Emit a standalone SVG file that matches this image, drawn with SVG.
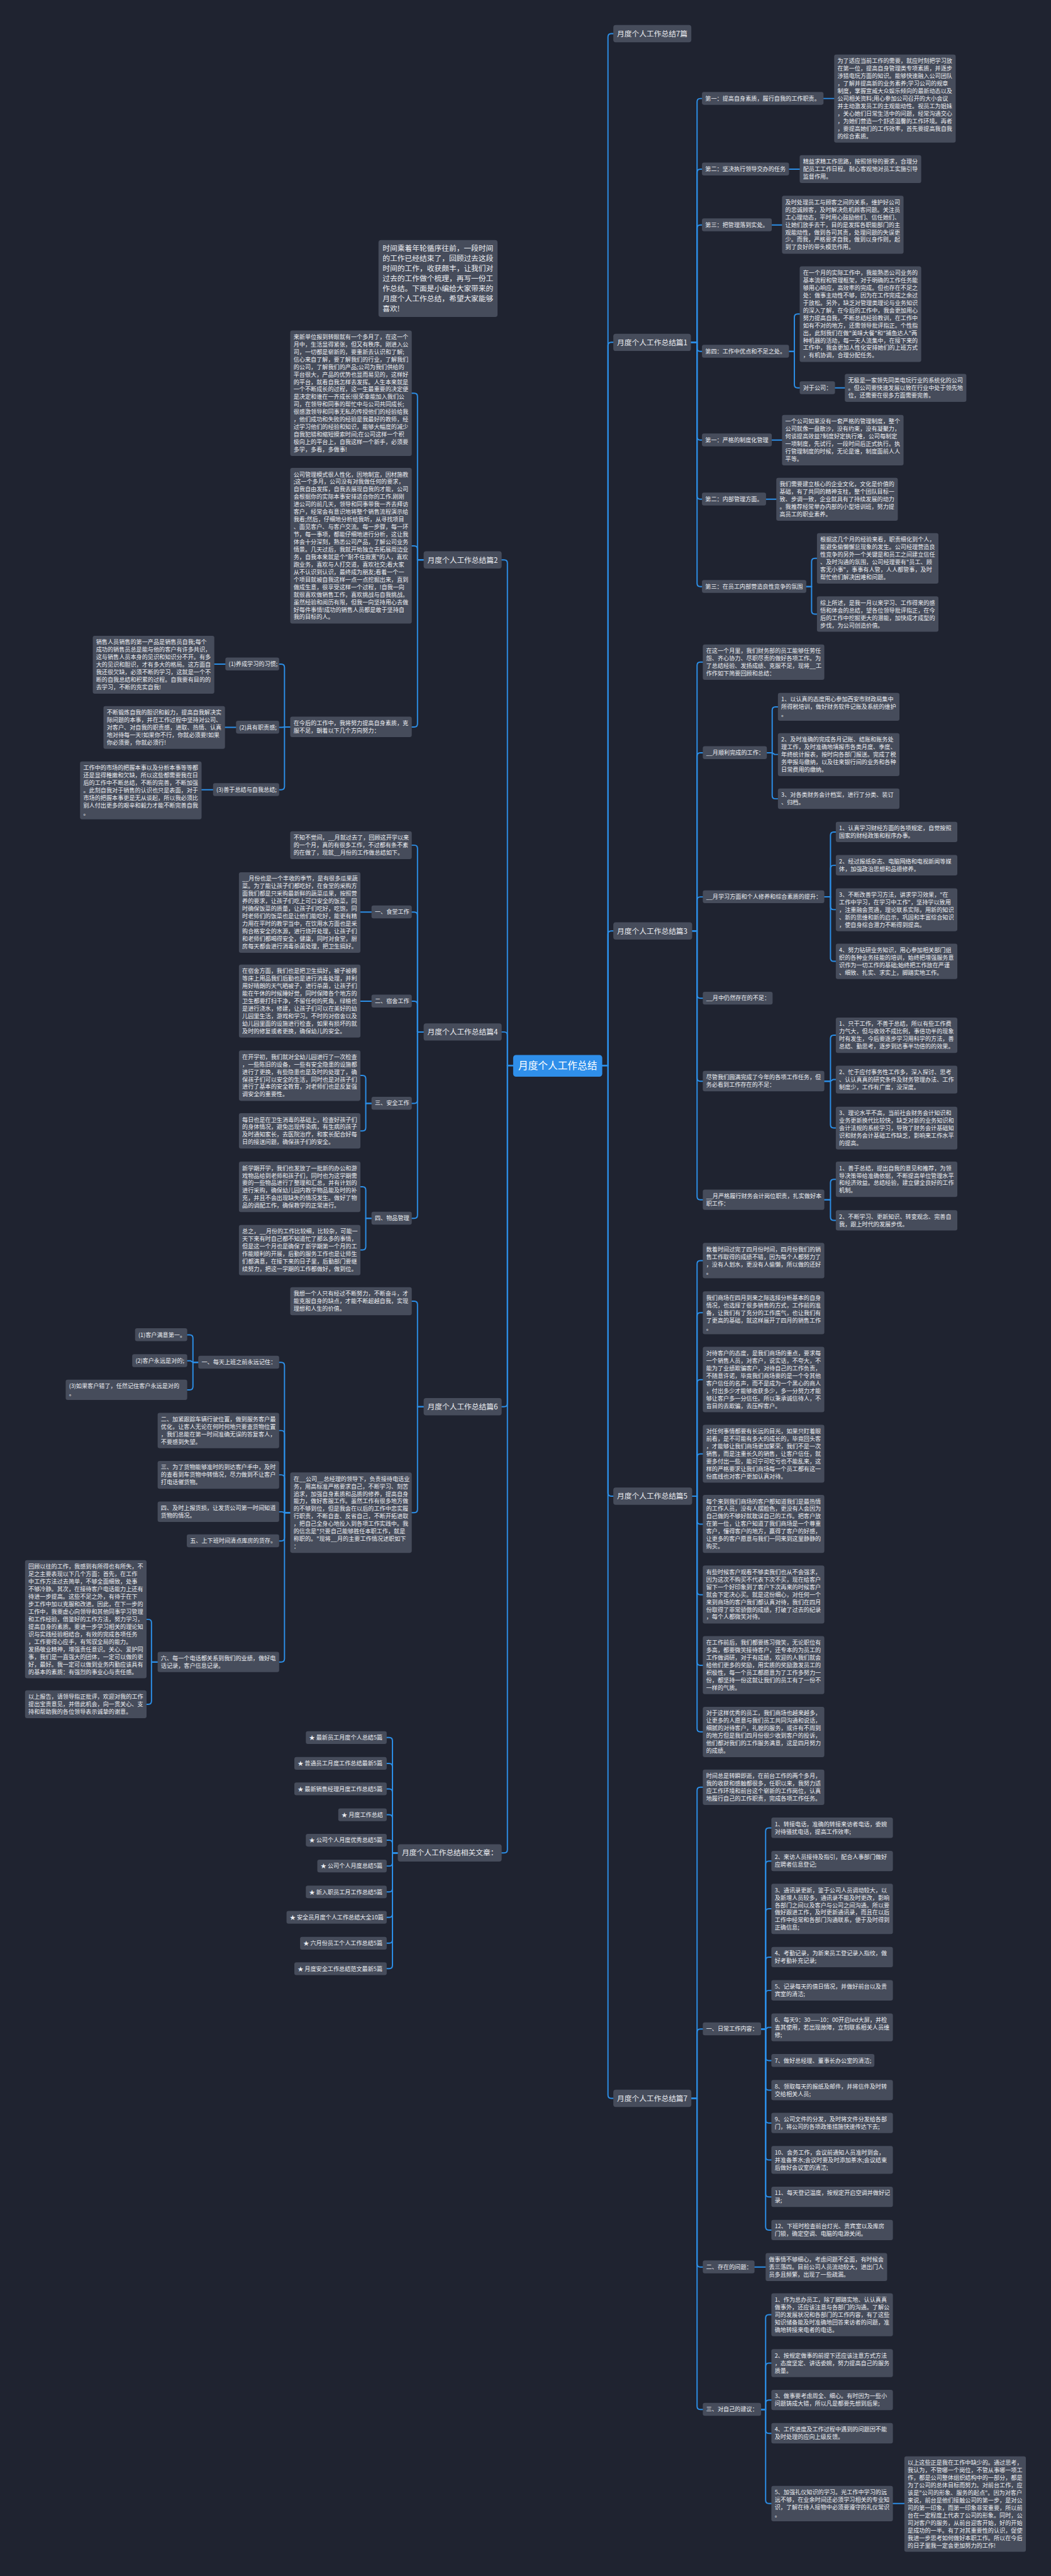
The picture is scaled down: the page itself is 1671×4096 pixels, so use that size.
<svg xmlns="http://www.w3.org/2000/svg" width="1671" height="4096" viewBox="0 0 1671 4096">
<style>
.bg{fill:#1f2330}
.b{fill:#464c5b}
.c{fill:#2f8fea}
.t{font-family:"Noto Sans CJK SC","Noto Sans",sans-serif;font-size:14px;fill:#eceef2}
.m{font-size:18px}
.x{font-size:24px;fill:#ffffff}
.l{fill:none;stroke:#2c8ee6;stroke-width:3;stroke-linecap:round;stroke-linejoin:round}
</style>
<rect class="bg" x="0" y="0" width="1671" height="4096"/>
<g transform="scale(0.65269)">
<g id="connectors">
<path class="l" d="M1467 2596H1481V90Q1481 82 1489 82H1494"/>
<path class="l" d="M1467 2596H1481V842Q1481 834 1489 834H1494"/>
<path class="l" d="M1467 2596H1481V2276Q1481 2268 1489 2268H1494"/>
<path class="l" d="M1467 2596H1481V3637Q1481 3645 1489 3645H1494"/>
<path class="l" d="M1467 2596H1481V5104Q1481 5112 1489 5112H1494"/>
<path class="l" d="M1250 2596H1236V1372Q1236 1364 1228 1364H1222"/>
<path class="l" d="M1250 2596H1236V2522Q1236 2514 1228 2514H1222"/>
<path class="l" d="M1250 2596H1236V3419Q1236 3427 1228 3427H1222"/>
<path class="l" d="M1250 2596H1236V4506Q1236 4514 1228 4514H1222"/>
<path class="l" d="M1683 834H1698V248Q1698 240 1706 240H1710"/>
<path class="l" d="M1683 834H1698V420Q1698 412 1706 412H1710"/>
<path class="l" d="M1683 834H1698V556Q1698 548 1706 548H1710"/>
<path class="l" d="M1683 834H1698V848Q1698 856 1706 856H1710"/>
<path class="l" d="M1683 834H1698V1064Q1698 1072 1706 1072H1710"/>
<path class="l" d="M1683 834H1698V1208Q1698 1216 1706 1216H1710"/>
<path class="l" d="M1683 834H1698V1421Q1698 1429 1706 1429H1710"/>
<path class="l" d="M2006 240H2032"/>
<path class="l" d="M1922 412H1948"/>
<path class="l" d="M1880 548H1905"/>
<path class="l" d="M1922 856H1935V773Q1935 765 1943 765H1948"/>
<path class="l" d="M1922 856H1935V937Q1935 945 1943 945H1948"/>
<path class="l" d="M2034 945H2058"/>
<path class="l" d="M1880 1072H1905"/>
<path class="l" d="M1866 1216H1891"/>
<path class="l" d="M1964 1429H1977V1368Q1977 1360 1985 1360H1990"/>
<path class="l" d="M1964 1429H1977V1488Q1977 1496 1985 1496H1990"/>
<path class="l" d="M1686 2268H1698V1621Q1698 1613 1706 1613H1712"/>
<path class="l" d="M1686 2268H1698V1842Q1698 1834 1706 1834H1712"/>
<path class="l" d="M1686 2268H1698V2193Q1698 2185 1706 2185H1712"/>
<path class="l" d="M1686 2268H1698V2424Q1698 2432 1706 2432H1712"/>
<path class="l" d="M1686 2268H1698V2626Q1698 2634 1706 2634H1712"/>
<path class="l" d="M1686 2268H1698V2915Q1698 2923 1706 2923H1712"/>
<path class="l" d="M1868 1834H1881V1730Q1881 1722 1889 1722H1895"/>
<path class="l" d="M1868 1834H1881L1887 1838H1895"/>
<path class="l" d="M1868 1834H1881V1938Q1881 1946 1889 1946H1895"/>
<path class="l" d="M2008 2185H2023V2035Q2023 2027 2031 2027H2036"/>
<path class="l" d="M2008 2185H2023V2116Q2023 2108 2031 2108H2036"/>
<path class="l" d="M2008 2185H2023V2208Q2023 2216 2031 2216H2036"/>
<path class="l" d="M2008 2185H2023V2334Q2023 2342 2031 2342H2036"/>
<path class="l" d="M2008 2634H2023V2530Q2023 2522 2031 2522H2036"/>
<path class="l" d="M2008 2634H2023L2029 2630H2036"/>
<path class="l" d="M2008 2634H2023V2740Q2023 2748 2031 2748H2036"/>
<path class="l" d="M2008 2923H2023V2881Q2023 2873 2031 2873H2036"/>
<path class="l" d="M2008 2923H2023V2965Q2023 2973 2031 2973H2036"/>
<path class="l" d="M1686 3645H1698V3079Q1698 3071 1706 3071H1712"/>
<path class="l" d="M1686 3645H1698V3206Q1698 3198 1706 3198H1712"/>
<path class="l" d="M1686 3645H1698V3369Q1698 3361 1706 3361H1712"/>
<path class="l" d="M1686 3645H1698V3550Q1698 3542 1706 3542H1712"/>
<path class="l" d="M1686 3645H1698V3705Q1698 3713 1706 3713H1712"/>
<path class="l" d="M1686 3645H1698V3877Q1698 3885 1706 3885H1712"/>
<path class="l" d="M1686 3645H1698V4049Q1698 4057 1706 4057H1712"/>
<path class="l" d="M1686 3645H1698V4211Q1698 4219 1706 4219H1712"/>
<path class="l" d="M1684 5112H1698V4362Q1698 4354 1706 4354H1712"/>
<path class="l" d="M1684 5112H1698V4951Q1698 4943 1706 4943H1712"/>
<path class="l" d="M1684 5112H1698V5515Q1698 5523 1706 5523H1712"/>
<path class="l" d="M1684 5112H1698V5862Q1698 5870 1706 5870H1712"/>
<path class="l" d="M1854 4943H1865V4461Q1865 4453 1873 4453H1879"/>
<path class="l" d="M1854 4943H1865V4542Q1865 4534 1873 4534H1879"/>
<path class="l" d="M1854 4943H1865V4658Q1865 4650 1873 4650H1879"/>
<path class="l" d="M1854 4943H1865V4776Q1865 4768 1873 4768H1879"/>
<path class="l" d="M1854 4943H1865V4857Q1865 4849 1873 4849H1879"/>
<path class="l" d="M1854 4943H1865L1871 4939H1879"/>
<path class="l" d="M1854 4943H1865V5012Q1865 5020 1873 5020H1879"/>
<path class="l" d="M1854 4943H1865V5084Q1865 5092 1873 5092H1879"/>
<path class="l" d="M1854 4943H1865V5164Q1865 5172 1873 5172H1879"/>
<path class="l" d="M1854 4943H1865V5254Q1865 5262 1873 5262H1879"/>
<path class="l" d="M1854 4943H1865V5344Q1865 5352 1873 5352H1879"/>
<path class="l" d="M1854 4943H1865V5425Q1865 5433 1873 5433H1879"/>
<path class="l" d="M1838 5523H1865"/>
<path class="l" d="M1854 5870H1865V5647Q1865 5639 1873 5639H1879"/>
<path class="l" d="M1854 5870H1865V5765Q1865 5757 1873 5757H1879"/>
<path class="l" d="M1854 5870H1865V5855Q1865 5847 1873 5847H1879"/>
<path class="l" d="M1854 5870H1865V5920Q1865 5928 1873 5928H1879"/>
<path class="l" d="M1854 5870H1865V6091Q1865 6099 1873 6099H1879"/>
<path class="l" d="M2175 6099H2203"/>
<path class="l" d="M1032 1364H1017V966Q1017 958 1009 958H1003"/>
<path class="l" d="M1032 1364H1017V1338Q1017 1330 1009 1330H1003"/>
<path class="l" d="M1032 1364H1017V1763Q1017 1771 1009 1771H1003"/>
<path class="l" d="M707 1771H693V1626Q693 1618 685 1618H680"/>
<path class="l" d="M707 1771H693L687 1772H680"/>
<path class="l" d="M707 1771H693V1916Q693 1924 685 1924H680"/>
<path class="l" d="M549 1618H522"/>
<path class="l" d="M575 1772H548"/>
<path class="l" d="M519 1924H491"/>
<path class="l" d="M1032 2514H1017V2067Q1017 2059 1009 2059H1003"/>
<path class="l" d="M1032 2514H1017V2230Q1017 2222 1009 2222H1003"/>
<path class="l" d="M1032 2514H1017V2447Q1017 2439 1009 2439H1003"/>
<path class="l" d="M1032 2514H1017V2680Q1017 2688 1009 2688H1003"/>
<path class="l" d="M1032 2514H1017V2960Q1017 2968 1009 2968H1003"/>
<path class="l" d="M905 2222H878"/>
<path class="l" d="M905 2439H878"/>
<path class="l" d="M905 2688H891V2628Q891 2620 883 2620H878"/>
<path class="l" d="M905 2688H891V2747Q891 2755 883 2755H878"/>
<path class="l" d="M905 2968H891V2899Q891 2891 883 2891H878"/>
<path class="l" d="M905 2968H891V3037Q891 3045 883 3045H878"/>
<path class="l" d="M1032 3427H1017V3178Q1017 3170 1009 3170H1003"/>
<path class="l" d="M1032 3427H1017V3677Q1017 3685 1009 3685H1003"/>
<path class="l" d="M707 3685H693V3327Q693 3319 685 3319H680"/>
<path class="l" d="M707 3685H693V3493Q693 3485 685 3485H680"/>
<path class="l" d="M707 3685H693V3601Q693 3593 685 3593H680"/>
<path class="l" d="M707 3685H693L687 3683H680"/>
<path class="l" d="M707 3685H693V3746Q693 3754 685 3754H680"/>
<path class="l" d="M707 3685H693V4041Q693 4049 685 4049H680"/>
<path class="l" d="M483 3319H470V3260Q470 3252 462 3252H456"/>
<path class="l" d="M483 3319H470L464 3315H456"/>
<path class="l" d="M483 3319H470V3378Q470 3386 462 3386H456"/>
<path class="l" d="M384 4049H369V3953Q369 3945 361 3945H357"/>
<path class="l" d="M384 4049H369V4144Q369 4152 361 4152H357"/>
<path class="l" d="M969 4514H956V4241Q956 4233 948 4233H942"/>
<path class="l" d="M969 4514H956V4304Q956 4296 948 4296H942"/>
<path class="l" d="M969 4514H956V4366Q956 4358 948 4358H942"/>
<path class="l" d="M969 4514H956V4429Q956 4421 948 4421H942"/>
<path class="l" d="M969 4514H956V4491Q956 4483 948 4483H942"/>
<path class="l" d="M969 4514H956V4538Q956 4546 948 4546H942"/>
<path class="l" d="M969 4514H956V4601Q956 4609 948 4609H942"/>
<path class="l" d="M969 4514H956V4663Q956 4671 948 4671H942"/>
<path class="l" d="M969 4514H956V4726Q956 4734 948 4734H942"/>
<path class="l" d="M969 4514H956V4788Q956 4796 948 4796H942"/>
</g>

<g id="center"><rect class="c" x="1250" y="2570" width="217" height="53" rx="7"/><text class="t x" x="1358.5" y="2605" text-anchor="middle">月度个人工作总结</text></g>

<g id="intro"><rect class="b" x="922" y="585" width="290" height="187" rx="6"/><text class="t m" x="932" y="612"><tspan x="932">时间乘着年轮循序往前，一段时间</tspan><tspan x="932" dy="24.3">的工作已经结束了，回顾过去这段</tspan><tspan x="932" dy="24.3">时间的工作，收获颇丰，让我们对</tspan><tspan x="932" dy="24.3">过去的工作做个梳理，再写一份工</tspan><tspan x="932" dy="24.3">作总结。下面是小编给大家带来的</tspan><tspan x="932" dy="24.3">月度个人工作总结，希望大家能够</tspan><tspan x="932" dy="24.3">喜欢!</tspan></text></g>

<!-- RIGHT branches -->
<g id="b7p"><rect class="b" x="1494" y="61" width="190" height="42" rx="6"/><text class="t m" x="1503" y="88.5">月度个人工作总结7篇</text></g>
<g id="b1"><rect class="b" x="1494" y="813" width="189" height="42" rx="6"/><text class="t m" x="1503" y="840.5">月度个人工作总结篇1</text></g>
<g id="b3"><rect class="b" x="1494" y="2247" width="192" height="42" rx="6"/><text class="t m" x="1503" y="2274.5">月度个人工作总结篇3</text></g>
<g id="b5"><rect class="b" x="1494" y="3624" width="192" height="42" rx="6"/><text class="t m" x="1503" y="3651.5">月度个人工作总结篇5</text></g>
<g id="b7"><rect class="b" x="1494" y="5091" width="190" height="42" rx="6"/><text class="t m" x="1503" y="5118.5">月度个人工作总结篇7</text></g>

<!-- 篇1 -->
<g id="b1-a"><rect class="b" x="1710" y="224" width="296" height="31.3" rx="5"/><text class="t" x="1718" y="244.6">第一：提高自身素质，履行自我的工作职责。</text></g>
<g id="b1-a1"><rect class="b" x="2032" y="133" width="296" height="214.3" rx="5"/><text class="t" x="2040" y="153.6"><tspan x="2040">为了适应当前工作的需要，就应时刻把学习放</tspan><tspan x="2040" dy="18.3">在第一位，提高自身管理类专项素质，并逐步</tspan><tspan x="2040" dy="18.3">涉猎电玩方面的知识。能够快速融入公司团队</tspan><tspan x="2040" dy="18.3">，了解并提高新的业务素养;学习公司的规章</tspan><tspan x="2040" dy="18.3">制度，掌握宣威大众娱乐倾向的最新动态以及</tspan><tspan x="2040" dy="18.3">公司相关资料;用心参加公司召开的大小会议</tspan><tspan x="2040" dy="18.3">并主动激发员工的主观能动性。视员工为姐妹</tspan><tspan x="2040" dy="18.3">，关心她们日常生活中的问题，经常沟通交心</tspan><tspan x="2040" dy="18.3">，为她们营造一个舒适温馨的工作环境。再者</tspan><tspan x="2040" dy="18.3">，要提高她们的工作效率，首先要提高我自我</tspan><tspan x="2040" dy="18.3">的综合素质。</tspan></text></g>
<g id="b1-b"><rect class="b" x="1710" y="396" width="212" height="31.3" rx="5"/><text class="t" x="1718" y="416.6">第二：坚决执行领导交办的任务</text></g>
<g id="b1-b1"><rect class="b" x="1948" y="378" width="296" height="67.9" rx="5"/><text class="t" x="1956" y="398.6"><tspan x="1956">精益求精工作思路，按照领导的要求，合理分</tspan><tspan x="1956" dy="18.3">配员工工作日程。耐心客观地对员工实施引导</tspan><tspan x="1956" dy="18.3">监督作用。</tspan></text></g>
<g id="b1-c"><rect class="b" x="1710" y="532" width="170" height="31.3" rx="5"/><text class="t" x="1718" y="552.6">第三：把管理落到实处。</text></g>
<g id="b1-c1"><rect class="b" x="1905" y="477" width="296" height="141.1" rx="5"/><text class="t" x="1913" y="497.6"><tspan x="1913">及时处理员工与顾客之间的关系，维护好公司</tspan><tspan x="1913" dy="18.3">的忠诚顾客，及时解决危机顾客问题。关注员</tspan><tspan x="1913" dy="18.3">工心理动态，平时用心鼓励他们、信任她们、</tspan><tspan x="1913" dy="18.3">让她们放手去干，目的是发挥各职能部门的主</tspan><tspan x="1913" dy="18.3">观能动性，做到各司其责，处理问题的失误更</tspan><tspan x="1913" dy="18.3">少。而我，严格要求自我，做到以身作则，起</tspan><tspan x="1913" dy="18.3">到了良好的带头模范作用。</tspan></text></g>
<g id="b1-d"><rect class="b" x="1710" y="840" width="212" height="31.3" rx="5"/><text class="t" x="1718" y="860.6">第四：工作中优点和不足之处。</text></g>
<g id="b1-d1"><rect class="b" x="1948" y="649" width="296" height="232.6" rx="5"/><text class="t" x="1956" y="669.6"><tspan x="1956">在一个月的实际工作中，我能熟悉公司业务的</tspan><tspan x="1956" dy="18.3">基本流程和管理框架，对于明确的工作任务能</tspan><tspan x="1956" dy="18.3">够用心响应，高效率的完成。但也存在不足之</tspan><tspan x="1956" dy="18.3">处：做事主动性不够，因为在工作完成之余过</tspan><tspan x="1956" dy="18.3">于放松。另外，缺乏对管理类理论与业务知识</tspan><tspan x="1956" dy="18.3">的深入了解，在今后的工作中，我会更加用心</tspan><tspan x="1956" dy="18.3">努力提高自我，不断总结经验教训，在工作中</tspan><tspan x="1956" dy="18.3">如有不对的地方，还需领导批评指正。个性指</tspan><tspan x="1956" dy="18.3">出，此刻我们在做"美味大餐"和"捕鱼达人"两</tspan><tspan x="1956" dy="18.3">种机器的活动，每一天人流集中，在接下来的</tspan><tspan x="1956" dy="18.3">工作中，我会更加人性化安排她们的上班方式</tspan><tspan x="1956" dy="18.3">，有机协调，合理分配任务。</tspan></text></g>
<g id="b1-d2"><rect class="b" x="1948" y="929" width="86" height="31.3" rx="5"/><text class="t" x="1956" y="949.6">对于公司：</text></g>
<g id="b1-d21"><rect class="b" x="2058" y="911" width="296" height="67.9" rx="5"/><text class="t" x="2066" y="931.6"><tspan x="2066">无极是一家领先同类电玩行业的系统化的公司</tspan><tspan x="2066" dy="18.3">。但公司要快速发展以致在行业中处于领先地</tspan><tspan x="2066" dy="18.3">位，还需要在很多方面需要完善。</tspan></text></g>
<g id="b1-e"><rect class="b" x="1710" y="1056" width="170" height="31.3" rx="5"/><text class="t" x="1718" y="1076.6">第一：严格的制度化管理</text></g>
<g id="b1-e1"><rect class="b" x="1905" y="1011" width="296" height="122.8" rx="5"/><text class="t" x="1913" y="1031.6"><tspan x="1913">一个公司如果没有一套严格的管理制度，整个</tspan><tspan x="1913" dy="18.3">公司就像一盘散沙，没有约束，没有凝聚力，</tspan><tspan x="1913" dy="18.3">何谈提高效益?制度好定执行难，公司每制定</tspan><tspan x="1913" dy="18.3">一项制度，先试行，一段时间后正式执行。执</tspan><tspan x="1913" dy="18.3">行管理制度的时候，无论是谁，制度面前人人</tspan><tspan x="1913" dy="18.3">平等。</tspan></text></g>
<g id="b1-f"><rect class="b" x="1710" y="1200" width="156" height="31.3" rx="5"/><text class="t" x="1718" y="1220.6">第二：内部管理方面。</text></g>
<g id="b1-f1"><rect class="b" x="1891" y="1164" width="296" height="104.5" rx="5"/><text class="t" x="1899" y="1184.6"><tspan x="1899">我们需要建立核心的企业文化，文化是价值的</tspan><tspan x="1899" dy="18.3">基础，有了共同的精神支柱，整个团队目标一</tspan><tspan x="1899" dy="18.3">致、步调一致，企业就具有了持续发展的动力</tspan><tspan x="1899" dy="18.3">。我推荐经常举办内部的小型培训班，努力提</tspan><tspan x="1899" dy="18.3">高员工的职业素养。</tspan></text></g>
<g id="b1-g"><rect class="b" x="1710" y="1413" width="254" height="31.3" rx="5"/><text class="t" x="1718" y="1433.6">第三：在员工内部营造良性竞争的氛围</text></g>
<g id="b1-g1"><rect class="b" x="1990" y="1299" width="296" height="122.8" rx="5"/><text class="t" x="1998" y="1319.6"><tspan x="1998">根据这几个月的经验来看，职责细化到个人，</tspan><tspan x="1998" dy="18.3">能避免偷懒懈怠现象的发生。公司经理营造良</tspan><tspan x="1998" dy="18.3">性竞争的另外一个关键是和员工之间建立信任</tspan><tspan x="1998" dy="18.3">、及时沟通的氛围，公司经理要有"员工、顾</tspan><tspan x="1998" dy="18.3">客无小事"，事事有人管，人人都管事，及时</tspan><tspan x="1998" dy="18.3">帮忙他们解决困难和问题。</tspan></text></g>
<g id="b1-g2"><rect class="b" x="1990" y="1453" width="296" height="86.2" rx="5"/><text class="t" x="1998" y="1473.6"><tspan x="1998">综上所述，是我一月以来学习、工作得来的感</tspan><tspan x="1998" dy="18.3">悟和体会的总结，望各位领导批评指正，在今</tspan><tspan x="1998" dy="18.3">后的工作中挖掘更大的潜能，加快成才成型的</tspan><tspan x="1998" dy="18.3">步伐，为公司创造价值。</tspan></text></g>

<!-- 篇3 -->
<g id="b3-a"><rect class="b" x="1712" y="1570" width="296" height="86.2" rx="5"/><text class="t" x="1720" y="1590.6"><tspan x="1720">在这一个月里，我们财务部的员工能够任劳任</tspan><tspan x="1720" dy="18.3">怨、齐心协力、尽职尽责的做好各项工作。为</tspan><tspan x="1720" dy="18.3">了总结经验、发扬成绩、克服不足，现将__工</tspan><tspan x="1720" dy="18.3">作作如下简要回顾和总结：</tspan></text></g>
<g id="b3-b"><rect class="b" x="1712" y="1818" width="156" height="31.3" rx="5"/><text class="t" x="1720" y="1838.6">__月顺利完成的工作：</text></g>
<g id="b3-b1"><rect class="b" x="1895" y="1688" width="296" height="67.9" rx="5"/><text class="t" x="1903" y="1708.6"><tspan x="1903">1、以认真的态度用心参加西安市财政局集中</tspan><tspan x="1903" dy="18.3">所得税培训，做好财务软件记账及系统的维护</tspan><tspan x="1903" dy="18.3">。</tspan></text></g>
<g id="b3-b2"><rect class="b" x="1895" y="1786" width="296" height="104.5" rx="5"/><text class="t" x="1903" y="1806.6"><tspan x="1903">2、及时准确的完成各月记账、结账和账务处</tspan><tspan x="1903" dy="18.3">理工作，及时准确地填报市各类月度、季度、</tspan><tspan x="1903" dy="18.3">年终统计报表，按时向各部门报送。完成了税</tspan><tspan x="1903" dy="18.3">务申报与缴纳，以及往来银行间的业务和各种</tspan><tspan x="1903" dy="18.3">日常费用的缴纳。</tspan></text></g>
<g id="b3-b3"><rect class="b" x="1895" y="1921" width="296" height="49.6" rx="5"/><text class="t" x="1903" y="1941.6"><tspan x="1903">3、对各类财务会计档案，进行了分类、装订</tspan><tspan x="1903" dy="18.3">、归档。</tspan></text></g>
<g id="b3-c"><rect class="b" x="1712" y="2169" width="296" height="31.3" rx="5"/><text class="t" x="1720" y="2189.6">__月学习方面和个人修养和综合素质的提升：</text></g>
<g id="b3-c1"><rect class="b" x="2036" y="2002" width="296" height="49.6" rx="5"/><text class="t" x="2044" y="2022.6"><tspan x="2044">1、认真学习财经方面的各项规定，自觉按照</tspan><tspan x="2044" dy="18.3">国家的财经政策和程序办事。</tspan></text></g>
<g id="b3-c2"><rect class="b" x="2036" y="2083" width="296" height="49.6" rx="5"/><text class="t" x="2044" y="2103.6"><tspan x="2044">2、经过报纸杂志、电脑网络和电视新闻等媒</tspan><tspan x="2044" dy="18.3">体，加强政治思想和品德修养。</tspan></text></g>
<g id="b3-c3"><rect class="b" x="2036" y="2164" width="296" height="104.5" rx="5"/><text class="t" x="2044" y="2184.6"><tspan x="2044">3、不断改善学习方法，讲求学习效果，"在</tspan><tspan x="2044" dy="18.3">工作中学习，在学习中工作"，坚持学以致用</tspan><tspan x="2044" dy="18.3">，注重融会贯通，理论联系实际，用新的知识</tspan><tspan x="2044" dy="18.3">、新的思维和新的启示，巩固和丰富综合知识</tspan><tspan x="2044" dy="18.3">，使自身综合潜力不断得到提高。</tspan></text></g>
<g id="b3-c4"><rect class="b" x="2036" y="2299" width="296" height="86.2" rx="5"/><text class="t" x="2044" y="2319.6"><tspan x="2044">4、努力钻研业务知识，用心参加相关部门组</tspan><tspan x="2044" dy="18.3">织的各种业务技能的培训，始终把增强服务意</tspan><tspan x="2044" dy="18.3">识作为一切工作的基础;始终把工作放在严谨</tspan><tspan x="2044" dy="18.3">、细致、扎实、求实上，脚踏实地工作。</tspan></text></g>
<g id="b3-d"><rect class="b" x="1712" y="2416" width="170" height="31.3" rx="5"/><text class="t" x="1720" y="2436.6">__月中仍然存在的不足：</text></g>
<g id="b3-e"><rect class="b" x="1712" y="2609" width="296" height="49.6" rx="5"/><text class="t" x="1720" y="2629.6"><tspan x="1720">尽管我们圆满完成了今年的各项工作任务，但</tspan><tspan x="1720" dy="18.3">务必看到工作存在的不足：</tspan></text></g>
<g id="b3-e1"><rect class="b" x="2036" y="2479" width="296" height="86.2" rx="5"/><text class="t" x="2044" y="2499.6"><tspan x="2044">1、只干工作，不善于总结，所以有些工作费</tspan><tspan x="2044" dy="18.3">力气大，但与收效不成比例，事倍功半的现象</tspan><tspan x="2044" dy="18.3">时有发生，今后要逐步学习用科学的方法，善</tspan><tspan x="2044" dy="18.3">总结、勤思考，逐步到达事半功倍的的效果。</tspan></text></g>
<g id="b3-e2"><rect class="b" x="2036" y="2596" width="296" height="67.9" rx="5"/><text class="t" x="2044" y="2616.6"><tspan x="2044">2、忙于应付事务性工作多，深入探讨、思考</tspan><tspan x="2044" dy="18.3">、认认真真的研究条件及财务管理办法、工作</tspan><tspan x="2044" dy="18.3">制度少，工作有广度，没深度。</tspan></text></g>
<g id="b3-e3"><rect class="b" x="2036" y="2696" width="296" height="104.5" rx="5"/><text class="t" x="2044" y="2716.6"><tspan x="2044">3、理论水平不高，当前社会财务会计知识和</tspan><tspan x="2044" dy="18.3">业务更新换代比较快，缺乏对新的业务知识和</tspan><tspan x="2044" dy="18.3">会计法规的系统学习，导致了财务会计基础知</tspan><tspan x="2044" dy="18.3">识和财务会计基础工作缺乏，影响来工作水平</tspan><tspan x="2044" dy="18.3">的提高。</tspan></text></g>
<g id="b3-f"><rect class="b" x="1712" y="2898" width="296" height="49.6" rx="5"/><text class="t" x="1720" y="2918.6"><tspan x="1720">__月严格履行财务会计岗位职责，扎实做好本</tspan><tspan x="1720" dy="18.3">职工作：</tspan></text></g>
<g id="b3-f1"><rect class="b" x="2036" y="2830" width="296" height="86.2" rx="5"/><text class="t" x="2044" y="2850.6"><tspan x="2044">1、善于总结，提出自我的意见和推荐，为领</tspan><tspan x="2044" dy="18.3">导决策带给准确依据，不断提高单位管理水平</tspan><tspan x="2044" dy="18.3">和经济效益。总结经验，建立健全良好的工作</tspan><tspan x="2044" dy="18.3">机制。</tspan></text></g>
<g id="b3-f2"><rect class="b" x="2036" y="2948" width="296" height="49.6" rx="5"/><text class="t" x="2044" y="2968.6"><tspan x="2044">2、不断学习、更新知识、转变观念、完善自</tspan><tspan x="2044" dy="18.3">我，跟上时代的发展步伐。</tspan></text></g>

<!-- 篇5 -->
<g id="b5-a"><rect class="b" x="1712" y="3028" width="296" height="86.2" rx="5"/><text class="t" x="1720" y="3048.6"><tspan x="1720">数着时间过完了四月份时间，四月份我们的销</tspan><tspan x="1720" dy="18.3">售工作取得的成绩不错，因为每个人都努力了</tspan><tspan x="1720" dy="18.3">，没有人划水，更没有人偷懒，所以做的还好</tspan><tspan x="1720" dy="18.3">。</tspan></text></g>
<g id="b5-b"><rect class="b" x="1712" y="3146" width="296" height="104.5" rx="5"/><text class="t" x="1720" y="3166.6"><tspan x="1720">我们商场在四月到来之际选择分析基本的自身</tspan><tspan x="1720" dy="18.3">情况，也选择了很多销售的方式，工作前的准</tspan><tspan x="1720" dy="18.3">备，让我们有了充分的工作底气，也让我们有</tspan><tspan x="1720" dy="18.3">了更高的基础，就这样展开了四月的销售工作</tspan><tspan x="1720" dy="18.3">。</tspan></text></g>
<g id="b5-c"><rect class="b" x="1712" y="3281" width="296" height="159.4" rx="5"/><text class="t" x="1720" y="3301.6"><tspan x="1720">对待客户的态度，是我们商场的重点，要求每</tspan><tspan x="1720" dy="18.3">一个销售人员，对客户，说实话，不夸大，不</tspan><tspan x="1720" dy="18.3">能为了业绩欺骗客户，对待自己的工作负责，</tspan><tspan x="1720" dy="18.3">不随意许诺，毕竟我们商场要的是一个令其他</tspan><tspan x="1720" dy="18.3">客户信任的名声，而不是成为一个黑心的商人</tspan><tspan x="1720" dy="18.3">，付出多少才能够收获多少，多一分努力才能</tspan><tspan x="1720" dy="18.3">够让客户多一分信任。所以秉承诚信待人，不</tspan><tspan x="1720" dy="18.3">盲目的去欺骗，去压榨客户。</tspan></text></g>
<g id="b5-d"><rect class="b" x="1712" y="3471" width="296" height="141.1" rx="5"/><text class="t" x="1720" y="3491.6"><tspan x="1720">对任何事情都要有长远的目光，如果只盯着眼</tspan><tspan x="1720" dy="18.3">前看，是不可能有多大的成长的，毕竟回头客</tspan><tspan x="1720" dy="18.3">，才能够让我们商场更加繁荣，我们不是一次</tspan><tspan x="1720" dy="18.3">销售，而是注重长久的销售，让客户信任，就</tspan><tspan x="1720" dy="18.3">要多付出一些，能可宁可吃亏也不能乱来，这</tspan><tspan x="1720" dy="18.3">样的严格要求让我们商场每一个员工都有这一</tspan><tspan x="1720" dy="18.3">份底线也对客户更加认真对待。</tspan></text></g>
<g id="b5-e"><rect class="b" x="1712" y="3642" width="296" height="141.1" rx="5"/><text class="t" x="1720" y="3662.6"><tspan x="1720">每个来到我们商场的客户都知道我们是最热情</tspan><tspan x="1720" dy="18.3">的工作人员，没有人摆脸色，更没有人会因为</tspan><tspan x="1720" dy="18.3">自己做的不够好就耽误自己的工作。把客户放</tspan><tspan x="1720" dy="18.3">在第一位，让客户知道了我们商场是一个尊重</tspan><tspan x="1720" dy="18.3">客户，懂得客户的地方，赢得了客户的好感，</tspan><tspan x="1720" dy="18.3">让更多的客户愿意与我们一同来到这里静静的</tspan><tspan x="1720" dy="18.3">购买。</tspan></text></g>
<g id="b5-f"><rect class="b" x="1712" y="3814" width="296" height="141.1" rx="5"/><text class="t" x="1720" y="3834.6"><tspan x="1720">有些时候客户观看不够卖我们也从不会强求，</tspan><tspan x="1720" dy="18.3">因为这次不购买不代表下次不买，现在给客户</tspan><tspan x="1720" dy="18.3">留下一个好印象到了客户下次再来的时候客户</tspan><tspan x="1720" dy="18.3">就会下定决心买。就是这份细心，对任何一个</tspan><tspan x="1720" dy="18.3">来到商场的客户我们都认真对待，我们在四月</tspan><tspan x="1720" dy="18.3">份取得了非常骄傲的成绩，打破了过去的纪录</tspan><tspan x="1720" dy="18.3">，每个人都微笑对待。</tspan></text></g>
<g id="b5-g"><rect class="b" x="1712" y="3986" width="296" height="141.1" rx="5"/><text class="t" x="1720" y="4006.6"><tspan x="1720">在工作前后，我们都要练习微笑，无论职位有</tspan><tspan x="1720" dy="18.3">多高，都要微笑接待客户，还专本的为员工的</tspan><tspan x="1720" dy="18.3">工作做调研，对于有成绩，欢迎的人我们就会</tspan><tspan x="1720" dy="18.3">给他们更多的奖励，用实质的奖励激发员工的</tspan><tspan x="1720" dy="18.3">积极性，每一个员工都愿意为了工作多努力一</tspan><tspan x="1720" dy="18.3">份，都坚持一份这就让我们的员工有了一份不</tspan><tspan x="1720" dy="18.3">一样的气质。</tspan></text></g>
<g id="b5-h"><rect class="b" x="1712" y="4158" width="296" height="122.8" rx="5"/><text class="t" x="1720" y="4178.6"><tspan x="1720">对于这样优秀的员工，我们商场也越来越多，</tspan><tspan x="1720" dy="18.3">让更多的人愿意与我们员工共同沟通和说话，</tspan><tspan x="1720" dy="18.3">细腻的对待客户，礼貌的服务，或许有不周到</tspan><tspan x="1720" dy="18.3">的地方但是我们四月份很少收到客户的投诉，</tspan><tspan x="1720" dy="18.3">他们都对我们的工作服务满意，这是四月努力</tspan><tspan x="1720" dy="18.3">的成绩。</tspan></text></g>

<!-- 篇7 -->
<g id="b7-a"><rect class="b" x="1712" y="4311" width="296" height="86.2" rx="5"/><text class="t" x="1720" y="4331.6"><tspan x="1720">时间总是转瞬即逝，在前台工作的两个多月，</tspan><tspan x="1720" dy="18.3">我的收获和感触都很多，任职以来，我努力适</tspan><tspan x="1720" dy="18.3">应工作环境和前台这个崭新的工作岗位，认真</tspan><tspan x="1720" dy="18.3">地履行自己的工作职责，完成各项工作任务。</tspan></text></g>
<g id="b7-b"><rect class="b" x="1712" y="4927" width="142" height="31.3" rx="5"/><text class="t" x="1720" y="4947.6">一、日常工作内容：</text></g>
<g id="b7-b1"><rect class="b" x="1879" y="4428" width="296" height="49.6" rx="5"/><text class="t" x="1887" y="4448.6"><tspan x="1887">1、转接电话，准确的转接来访者电话，委婉</tspan><tspan x="1887" dy="18.3">对待骚扰电话，提高工作效率;</tspan></text></g>
<g id="b7-b2"><rect class="b" x="1879" y="4509" width="296" height="49.6" rx="5"/><text class="t" x="1887" y="4529.6"><tspan x="1887">2、来访人员接待及指引，配合人事部门做好</tspan><tspan x="1887" dy="18.3">应聘者信息登记;</tspan></text></g>
<g id="b7-b3"><rect class="b" x="1879" y="4589" width="296" height="122.8" rx="5"/><text class="t" x="1887" y="4609.6"><tspan x="1887">3、通讯录更新，鉴于公司人员调动较大，以</tspan><tspan x="1887" dy="18.3">及新增人员较多，通讯录不能及时更改，影响</tspan><tspan x="1887" dy="18.3">各部门之间以及客户与公司之间沟通。所以要</tspan><tspan x="1887" dy="18.3">做好跟进工作，及时更新通讯录，而且在以后</tspan><tspan x="1887" dy="18.3">工作中经常和各部门沟通联系，便于及时得到</tspan><tspan x="1887" dy="18.3">正确信息;</tspan></text></g>
<g id="b7-b4"><rect class="b" x="1879" y="4743" width="296" height="49.6" rx="5"/><text class="t" x="1887" y="4763.6"><tspan x="1887">4、考勤记录，为新来员工登记录入指纹，做</tspan><tspan x="1887" dy="18.3">好考勤补充记录;</tspan></text></g>
<g id="b7-b5"><rect class="b" x="1879" y="4824" width="296" height="49.6" rx="5"/><text class="t" x="1887" y="4844.6"><tspan x="1887">5、记录每天的值日情况，并做好前台以及贵</tspan><tspan x="1887" dy="18.3">宾室的清洁;</tspan></text></g>
<g id="b7-b6"><rect class="b" x="1879" y="4905" width="296" height="67.9" rx="5"/><text class="t" x="1887" y="4925.6"><tspan x="1887">6、每天9：30——10：00开启led大屏，并检</tspan><tspan x="1887" dy="18.3">查其使用，若出现故障，立刻联系相关人员维</tspan><tspan x="1887" dy="18.3">修;</tspan></text></g>
<g id="b7-b7"><rect class="b" x="1879" y="5004" width="251" height="31.3" rx="5"/><text class="t" x="1887" y="5024.6">7、做好总经理、董事长办公室的清洁;</text></g>
<g id="b7-b8"><rect class="b" x="1879" y="5067" width="296" height="49.6" rx="5"/><text class="t" x="1887" y="5087.6"><tspan x="1887">8、领取每天的报纸及邮件，并将信件及时转</tspan><tspan x="1887" dy="18.3">交给相关人员;</tspan></text></g>
<g id="b7-b9"><rect class="b" x="1879" y="5147" width="296" height="49.6" rx="5"/><text class="t" x="1887" y="5167.6"><tspan x="1887">9、公司文件的分发，及时将文件分发给各部</tspan><tspan x="1887" dy="18.3">门，将公司的各项政策措施快速传达下去;</tspan></text></g>
<g id="b7-b10"><rect class="b" x="1879" y="5228" width="296" height="67.9" rx="5"/><text class="t" x="1887" y="5248.6"><tspan x="1887">10、会务工作，会议前通知人员准时到会，</tspan><tspan x="1887" dy="18.3">并准备茶水;会议时要及时添加茶水;会议结束</tspan><tspan x="1887" dy="18.3">后做好会议室的清洁;</tspan></text></g>
<g id="b7-b11"><rect class="b" x="1879" y="5327" width="296" height="49.6" rx="5"/><text class="t" x="1887" y="5347.6"><tspan x="1887">11、每天登记温度，按规定开启空调并做好记</tspan><tspan x="1887" dy="18.3">录;</tspan></text></g>
<g id="b7-b12"><rect class="b" x="1879" y="5408" width="296" height="49.6" rx="5"/><text class="t" x="1887" y="5428.6"><tspan x="1887">12、下班时检查前台灯光、贵宾室以及库房</tspan><tspan x="1887" dy="18.3">门锁，确定空调、电脑的电源关闭。</tspan></text></g>
<g id="b7-c"><rect class="b" x="1712" y="5507" width="126" height="31.3" rx="5"/><text class="t" x="1720" y="5527.6">二、存在的问题：</text></g>
<g id="b7-c1"><rect class="b" x="1865" y="5489" width="296" height="67.9" rx="5"/><text class="t" x="1873" y="5509.6"><tspan x="1873">做事情不够细心，考虑问题不全面，有时候会</tspan><tspan x="1873" dy="18.3">丢三落四。目前公司人员流动较大，进出门人</tspan><tspan x="1873" dy="18.3">员多且频繁，出现了一些疏漏。</tspan></text></g>
<g id="b7-d"><rect class="b" x="1712" y="5854" width="142" height="31.3" rx="5"/><text class="t" x="1720" y="5874.6">三、对自己的建议：</text></g>
<g id="b7-d1"><rect class="b" x="1879" y="5587" width="296" height="104.5" rx="5"/><text class="t" x="1887" y="5607.6"><tspan x="1887">1、作为总办员工，除了脚踏实地、认认真真</tspan><tspan x="1887" dy="18.3">做事外，还应该注意与各部门的沟通。了解公</tspan><tspan x="1887" dy="18.3">司的发展状况和各部门的工作内容，有了这些</tspan><tspan x="1887" dy="18.3">知识储备能及时准确地回答来访者的问题，准</tspan><tspan x="1887" dy="18.3">确地转接来电者的电话。</tspan></text></g>
<g id="b7-d2"><rect class="b" x="1879" y="5723" width="296" height="67.9" rx="5"/><text class="t" x="1887" y="5743.6"><tspan x="1887">2、按规定做事的前提下还应该注意方式方法</tspan><tspan x="1887" dy="18.3">，态度坚定、讲话委婉，努力提高自己的服务</tspan><tspan x="1887" dy="18.3">质量。</tspan></text></g>
<g id="b7-d3"><rect class="b" x="1879" y="5822" width="296" height="49.6" rx="5"/><text class="t" x="1887" y="5842.6"><tspan x="1887">3、做事要考虑周全、细心。有时因为一些小</tspan><tspan x="1887" dy="18.3">问题铸成大错，所以凡是都要先想到后果;</tspan></text></g>
<g id="b7-d4"><rect class="b" x="1879" y="5903" width="296" height="49.6" rx="5"/><text class="t" x="1887" y="5923.6"><tspan x="1887">4、工作进度及工作过程中遇到的问题因不能</tspan><tspan x="1887" dy="18.3">及时处理的应向上级反馈。</tspan></text></g>
<g id="b7-d5"><rect class="b" x="1879" y="6056" width="296" height="86.2" rx="5"/><text class="t" x="1887" y="6076.6"><tspan x="1887">5、加强礼仪知识的学习。光工作中学习的远</tspan><tspan x="1887" dy="18.3">远不够，在业余时间还必须学习相关的专业知</tspan><tspan x="1887" dy="18.3">识，了解在待人接物中必须要遵守的礼仪常识</tspan><tspan x="1887" dy="18.3">。</tspan></text></g>
<g id="b7-d51"><rect class="b" x="2203" y="5984" width="296" height="232.6" rx="5"/><text class="t" x="2211" y="6004.6"><tspan x="2211">以上这些正是我在工作中缺少的。通过思考，</tspan><tspan x="2211" dy="18.3">我认为，不管哪一个岗位，不管从事哪一项工</tspan><tspan x="2211" dy="18.3">作，都是公司整体组织结构中的一部分，都是</tspan><tspan x="2211" dy="18.3">为了公司的总体目标而努力。对前台工作，应</tspan><tspan x="2211" dy="18.3">该是"公司的形象、服务的起点"。因为对客户</tspan><tspan x="2211" dy="18.3">来说，前台是他们接触公司的第一步，是对公</tspan><tspan x="2211" dy="18.3">司的第一印象，而第一印象非常重要，所以前</tspan><tspan x="2211" dy="18.3">台在一定程度上代表了公司的形象。同时，公</tspan><tspan x="2211" dy="18.3">司对客户的服务，从前台迎客开始，好的开始</tspan><tspan x="2211" dy="18.3">是成功的一半。有了对其重要性的认识，促使</tspan><tspan x="2211" dy="18.3">我进一步思考如何做好本职工作。所以在今后</tspan><tspan x="2211" dy="18.3">的日子里我一定会更加努力的工作!</tspan></text></g>

<!-- LEFT branches -->
<g id="b2"><rect class="b" x="1032" y="1343" width="190" height="42" rx="6"/><text class="t m" x="1041" y="1370.5">月度个人工作总结篇2</text></g>
<g id="b4"><rect class="b" x="1032" y="2493" width="190" height="42" rx="6"/><text class="t m" x="1041" y="2520.5">月度个人工作总结篇4</text></g>
<g id="b6"><rect class="b" x="1032" y="3406" width="190" height="42" rx="6"/><text class="t m" x="1041" y="3433.5">月度个人工作总结篇6</text></g>
<g id="bx"><rect class="b" x="969" y="4493" width="253" height="42" rx="6"/><text class="t m" x="979" y="4520.5">月度个人工作总结相关文章：</text></g>

<!-- 篇2 -->
<g id="b2-a"><rect class="b" x="707" y="805" width="296" height="305.8" rx="5"/><text class="t" x="715" y="825.6"><tspan x="715">来新单位报到转眼就有一个多月了，在这一个</tspan><tspan x="715" dy="18.3">月中，生活显得紧张，但又有秩序。刚进入公</tspan><tspan x="715" dy="18.3">司，一切都是崭新的，要重新去认识和了解;</tspan><tspan x="715" dy="18.3">信心来自了解，要了解我们的行业，了解我们</tspan><tspan x="715" dy="18.3">的公司，了解我们的产品;公司为我们供给的</tspan><tspan x="715" dy="18.3">平台很大，产品的优势也显而易见的，这样好</tspan><tspan x="715" dy="18.3">的平台，就看自我怎样去发挥。人生本来就是</tspan><tspan x="715" dy="18.3">一个不断成长的过程，这一生最重要的决定便</tspan><tspan x="715" dy="18.3">是决定和谁在一齐成长!很荣幸能加入我们公</tspan><tspan x="715" dy="18.3">司，在领导和同事的帮忙中与公司共同成长;</tspan><tspan x="715" dy="18.3">很感激领导和同事无私的传授他们的经验给我</tspan><tspan x="715" dy="18.3">，他们成功和失败的经验是我最好的教师，经</tspan><tspan x="715" dy="18.3">过学习他们的经验和知识，能够大幅度的减少</tspan><tspan x="715" dy="18.3">自我犯错和缩短摸索时间;在公司这样一个积</tspan><tspan x="715" dy="18.3">极向上的平台上，自我这样一个新手，必须要</tspan><tspan x="715" dy="18.3">多学，多看，多做事!</tspan></text></g>
<g id="b2-b"><rect class="b" x="707" y="1140" width="296" height="379" rx="5"/><text class="t" x="715" y="1160.6"><tspan x="715">公司管理模式很人性化，因地制宜，因材施教</tspan><tspan x="715" dy="18.3">;这一个多月，公司没有对我做任何的要求，</tspan><tspan x="715" dy="18.3">自我自由发挥，自我去展现自我的才能，公司</tspan><tspan x="715" dy="18.3">会根据你的实际本事安排适合你的工作.刚刚</tspan><tspan x="715" dy="18.3">进公司的前几天，领导和同事带我一齐去拜访</tspan><tspan x="715" dy="18.3">客户，经常会有意识地将整个销售流程演示给</tspan><tspan x="715" dy="18.3">我看;然后，仔细地分析给我听，从寻找项目</tspan><tspan x="715" dy="18.3">、面见客户、与客户交流。每一步骤，每一环</tspan><tspan x="715" dy="18.3">节，每一事项，都能仔细地进行分析，这让我</tspan><tspan x="715" dy="18.3">体会十分深刻，熟悉公司产品，了解公司业务</tspan><tspan x="715" dy="18.3">情景。几天过后，我就开始独立去拓展周边业</tspan><tspan x="715" dy="18.3">务，自我本来就是个"耐不住寂寞"的人，喜欢</tspan><tspan x="715" dy="18.3">跑业务，喜欢与人打交道，喜欢社交;看大家</tspan><tspan x="715" dy="18.3">从不认识到认识，最终成为朋友;看着一个一</tspan><tspan x="715" dy="18.3">个项目就被自我这样一点一点挖掘出来，直到</tspan><tspan x="715" dy="18.3">做成生意，很享受这样一个过程，!自我一向</tspan><tspan x="715" dy="18.3">就很喜欢做销售工作，喜欢挑战与自我挑战。</tspan><tspan x="715" dy="18.3">虽然经验和阅历有限，但我一向坚持用心去做</tspan><tspan x="715" dy="18.3">好每件事情!成功的销售人员都是敢于坚持自</tspan><tspan x="715" dy="18.3">我的目标的人。</tspan></text></g>
<g id="b2-c"><rect class="b" x="707" y="1746" width="296" height="49.6" rx="5"/><text class="t" x="715" y="1766.6"><tspan x="715">在今后的工作中，我将努力提高自身素质，克</tspan><tspan x="715" dy="18.3">服不足，朝着以下几个方向努力：</tspan></text></g>
<g id="b2-c1"><rect class="b" x="549" y="1602" width="131" height="31.3" rx="5"/><text class="t" x="557" y="1622.6">(1)养成学习的习惯;</text></g>
<g id="b2-c11"><rect class="b" x="226" y="1549" width="296" height="141.1" rx="5"/><text class="t" x="234" y="1569.6"><tspan x="234">销售人员销售的第一产品是销售员自我;每个</tspan><tspan x="234" dy="18.3">成功的销售员总是能与他的客户有许多共识，</tspan><tspan x="234" dy="18.3">这与销售人员本身的见识和知识分不开。有多</tspan><tspan x="234" dy="18.3">大的见识和胆识，才有多大的格局。这方面自</tspan><tspan x="234" dy="18.3">我还很欠缺，必须不断的学习，这就是一个不</tspan><tspan x="234" dy="18.3">断的自我总结和积累的过程。自我要有目的的</tspan><tspan x="234" dy="18.3">去学习，不断的充实自我!</tspan></text></g>
<g id="b2-c2"><rect class="b" x="575" y="1756" width="105" height="31.3" rx="5"/><text class="t" x="583" y="1776.6">(2)具有职责感;</text></g>
<g id="b2-c21"><rect class="b" x="252" y="1720" width="296" height="104.5" rx="5"/><text class="t" x="260" y="1740.6"><tspan x="260">不断锻炼自我的胆识和毅力，提高自我解决实</tspan><tspan x="260" dy="18.3">际问题的本事，并在工作过程中坚持对公司、</tspan><tspan x="260" dy="18.3">对客户、对自我的职责感，进取、热情、认真</tspan><tspan x="260" dy="18.3">地对待每一天!如果你不行，你就必须要!如果</tspan><tspan x="260" dy="18.3">你必须要，你就必须行!</tspan></text></g>
<g id="b2-c3"><rect class="b" x="519" y="1908" width="161" height="31.3" rx="5"/><text class="t" x="527" y="1928.6">(3)善于总结与自我总结;</text></g>
<g id="b2-c31"><rect class="b" x="195" y="1855" width="296" height="141.1" rx="5"/><text class="t" x="203" y="1875.6"><tspan x="203">工作中的市场的把握本事以及分析本事等等都</tspan><tspan x="203" dy="18.3">还是显得稚嫩和欠缺，所以这些都需要我在日</tspan><tspan x="203" dy="18.3">后的工作中不断总结，不断的完善，不断加强</tspan><tspan x="203" dy="18.3">。此刻自我对于销售的认识也只是表面，对于</tspan><tspan x="203" dy="18.3">市场的把握本事更是无从谈起，所以我必须比</tspan><tspan x="203" dy="18.3">别人付出更多的艰辛和毅力才能不断完善自我</tspan><tspan x="203" dy="18.3">。</tspan></text></g>

<!-- 篇4 -->
<g id="b4-a"><rect class="b" x="707" y="2025" width="296" height="67.9" rx="5"/><text class="t" x="715" y="2045.6"><tspan x="715">不知不觉间，__月就过去了，回顾这开学以来</tspan><tspan x="715" dy="18.3">的一个月，真的有很多工作，不过都有条不紊</tspan><tspan x="715" dy="18.3">的在做了，现就__月份的工作做总结如下。</tspan></text></g>
<g id="b4-b"><rect class="b" x="905" y="2206" width="98" height="31.3" rx="5"/><text class="t" x="913" y="2226.6">一、食堂工作</text></g>
<g id="b4-b1"><rect class="b" x="582" y="2125" width="296" height="196" rx="5"/><text class="t" x="590" y="2145.6"><tspan x="590">__月份也是一个丰收的季节，是有很多瓜果蔬</tspan><tspan x="590" dy="18.3">菜。为了能让孩子们都吃好，在食堂的采购方</tspan><tspan x="590" dy="18.3">面我们都是只采购最新鲜的蔬菜瓜果，按照营</tspan><tspan x="590" dy="18.3">养的要求，让孩子们吃上可口安全的饭菜，同</tspan><tspan x="590" dy="18.3">时确保饭菜的质量，让孩子们吃好，吃饱，同</tspan><tspan x="590" dy="18.3">时老师们的饭菜也是让他们能吃好，能更有精</tspan><tspan x="590" dy="18.3">力用在平时的教学当中，在饮用水方面也是采</tspan><tspan x="590" dy="18.3">购合格安全的水源，进行烧开处理，让孩子们</tspan><tspan x="590" dy="18.3">和老师们都喝得安全，健康，同时对食堂，厨</tspan><tspan x="590" dy="18.3">房每天都会进行消毒杀菌处理，把卫生搞好。</tspan></text></g>
<g id="b4-c"><rect class="b" x="905" y="2423" width="98" height="31.3" rx="5"/><text class="t" x="913" y="2443.6">二、宿舍工作</text></g>
<g id="b4-c1"><rect class="b" x="582" y="2350" width="296" height="177.7" rx="5"/><text class="t" x="590" y="2370.6"><tspan x="590">在宿舍方面，我们也是把卫生搞好，被子被褥</tspan><tspan x="590" dy="18.3">等床上用品我们后勤也是进行消毒处理，并利</tspan><tspan x="590" dy="18.3">用好晴朗的天气晒被子，进行杀菌，让孩子们</tspan><tspan x="590" dy="18.3">能在午休的时候睡好觉，同时保障各个地方的</tspan><tspan x="590" dy="18.3">卫生都要打扫干净，不留任何的死角，绿植也</tspan><tspan x="590" dy="18.3">是进行浇水，修建，让孩子们可以在美好的幼</tspan><tspan x="590" dy="18.3">儿园里生活，游戏和学习。不时的对宿舍以及</tspan><tspan x="590" dy="18.3">幼儿园里面的设施进行检查，如果有损坏的就</tspan><tspan x="590" dy="18.3">及时的修复或者更换，确保幼儿的安全。</tspan></text></g>
<g id="b4-d"><rect class="b" x="905" y="2672" width="98" height="31.3" rx="5"/><text class="t" x="913" y="2692.6">三、安全工作</text></g>
<g id="b4-d1"><rect class="b" x="582" y="2559" width="296" height="122.8" rx="5"/><text class="t" x="590" y="2579.6"><tspan x="590">在开学初，我们就对全幼儿园进行了一次检查</tspan><tspan x="590" dy="18.3">，一些陈旧的设备，一些有安全隐患的设施都</tspan><tspan x="590" dy="18.3">进行了更换，有些隐患也是及时的处理了，确</tspan><tspan x="590" dy="18.3">保孩子们可以安全的生活，同时也是对孩子们</tspan><tspan x="590" dy="18.3">进行了基本的安全教育，对老师们也是反复强</tspan><tspan x="590" dy="18.3">调安全的重要性。</tspan></text></g>
<g id="b4-d2"><rect class="b" x="582" y="2712" width="296" height="86.2" rx="5"/><text class="t" x="590" y="2732.6"><tspan x="590">每日也是在卫生消毒的基础上，检查好孩子们</tspan><tspan x="590" dy="18.3">的身体情况，避免出现传染病，有生病的孩子</tspan><tspan x="590" dy="18.3">及时通知家长，去医院治疗，和家长配合好每</tspan><tspan x="590" dy="18.3">日的接送问题，确保孩子们的安全。</tspan></text></g>
<g id="b4-e"><rect class="b" x="905" y="2952" width="98" height="31.3" rx="5"/><text class="t" x="913" y="2972.6">四、物品管理</text></g>
<g id="b4-e1"><rect class="b" x="582" y="2830" width="296" height="122.8" rx="5"/><text class="t" x="590" y="2850.6"><tspan x="590">新学期开学，我们也发放了一批新的办公和游</tspan><tspan x="590" dy="18.3">戏物品给到老师和孩子们，同时也为这学期需</tspan><tspan x="590" dy="18.3">要的一些物品进行了整理和汇总，并有计划的</tspan><tspan x="590" dy="18.3">进行采购，确保幼儿园内教学物品能及时的补</tspan><tspan x="590" dy="18.3">充，并且不会出现缺失的情况发生。做好了物</tspan><tspan x="590" dy="18.3">品的调配工作，确保教学的正常进行。</tspan></text></g>
<g id="b4-e2"><rect class="b" x="582" y="2984" width="296" height="122.8" rx="5"/><text class="t" x="590" y="3004.6"><tspan x="590">总之，__月份的工作比较细，比较杂，可能一</tspan><tspan x="590" dy="18.3">天下来有时自己都不知道忙了那么多的事情，</tspan><tspan x="590" dy="18.3">但是这一个月也是确保了新学期第一个月的工</tspan><tspan x="590" dy="18.3">作能顺利的开展，后勤的服务工作也是让师生</tspan><tspan x="590" dy="18.3">们都满意，在接下来的日子里，后勤部门要继</tspan><tspan x="590" dy="18.3">续努力，把这一学期的工作都做好，做到位。</tspan></text></g>

<!-- 篇6 -->
<g id="b6-a"><rect class="b" x="707" y="3136" width="296" height="67.9" rx="5"/><text class="t" x="715" y="3156.6"><tspan x="715">我想一个人只有经过不断努力，不断奋斗，才</tspan><tspan x="715" dy="18.3">能克服自身的缺点，才能不断超越自我，实现</tspan><tspan x="715" dy="18.3">理想和人生的价值。</tspan></text></g>
<g id="b6-b"><rect class="b" x="707" y="3587" width="296" height="196" rx="5"/><text class="t" x="715" y="3607.6"><tspan x="715">在__公司__总经理的领导下，负责接待电话业</tspan><tspan x="715" dy="18.3">务，用高标准严格要求自己，不断学习、刻苦</tspan><tspan x="715" dy="18.3">追求，加强自身素质和品质的修养，提高自身</tspan><tspan x="715" dy="18.3">能力，做好客服工作。虽然工作有很多地方做</tspan><tspan x="715" dy="18.3">的不够到位，但是我会在以后的工作中忠实履</tspan><tspan x="715" dy="18.3">行职责，不断自查、反省自己，不断开拓进取</tspan><tspan x="715" dy="18.3">，把自己全身心地投入到各项工作实践中。我</tspan><tspan x="715" dy="18.3">的信念是"只要自己能够胜任本职工作，就是</tspan><tspan x="715" dy="18.3">称职的。"现将__月的主要工作情况述职如下</tspan><tspan x="715" dy="18.3">：</tspan></text></g>
<g id="b6-b1"><rect class="b" x="483" y="3303" width="197" height="31.3" rx="5"/><text class="t" x="491" y="3323.6">一、每天上班之前永远记住：</text></g>
<g id="b6-b11"><rect class="b" x="329" y="3236" width="127" height="31.3" rx="5"/><text class="t" x="337" y="3256.6">(1)客户满意第一。</text></g>
<g id="b6-b12"><rect class="b" x="322" y="3299" width="134" height="31.3" rx="5"/><text class="t" x="330" y="3319.6">(2)客户永远是对的;</text></g>
<g id="b6-b13"><rect class="b" x="160" y="3361" width="296" height="49.6" rx="5"/><text class="t" x="168" y="3381.6"><tspan x="168">(3)如果客户错了，任然记住客户永远是对的</tspan><tspan x="168" dy="18.3">。</tspan></text></g>
<g id="b6-b2"><rect class="b" x="384" y="3442" width="296" height="86.2" rx="5"/><text class="t" x="392" y="3462.6"><tspan x="392">二、加紧跟踪车辆行驶位置，做到服务客户最</tspan><tspan x="392" dy="18.3">优化，让客人无论在何时何地只要查货物位置</tspan><tspan x="392" dy="18.3">，我们总能在第一时间准确无误的答复客人，</tspan><tspan x="392" dy="18.3">不要感到失望。</tspan></text></g>
<g id="b6-b3"><rect class="b" x="384" y="3559" width="296" height="67.9" rx="5"/><text class="t" x="392" y="3579.6"><tspan x="392">三、为了货物能够准时的到达客户手中，及时</tspan><tspan x="392" dy="18.3">的查看到车货物中转情况，尽力做到不让客户</tspan><tspan x="392" dy="18.3">打电话催货物。</tspan></text></g>
<g id="b6-b4"><rect class="b" x="384" y="3658" width="296" height="49.6" rx="5"/><text class="t" x="392" y="3678.6"><tspan x="392">四、及时上报货损，让发货公司第一时间知道</tspan><tspan x="392" dy="18.3">货物的情况。</tspan></text></g>
<g id="b6-b5"><rect class="b" x="455" y="3738" width="225" height="31.3" rx="5"/><text class="t" x="463" y="3758.6">五、上下班时间清点库房的货存。</text></g>
<g id="b6-b6"><rect class="b" x="384" y="4024" width="296" height="49.6" rx="5"/><text class="t" x="392" y="4044.6"><tspan x="392">六、每一个电话都关系到我们的业绩，做好电</tspan><tspan x="392" dy="18.3">话记录，客户信息记录。</tspan></text></g>
<g id="b6-b61"><rect class="b" x="61" y="3801" width="296" height="287.5" rx="5"/><text class="t" x="69" y="3821.6"><tspan x="69">回顾以往的工作，我感到有所得也有所失，不</tspan><tspan x="69" dy="18.3">足之主要表现以下几个方面：首先，在工作</tspan><tspan x="69" dy="18.3">中工作方法过去简单，不够全面细致，处事</tspan><tspan x="69" dy="18.3">不够冷静。其次，在接待客户电话能力上还有</tspan><tspan x="69" dy="18.3">待进一步提高。这些不足之外，有待于在下</tspan><tspan x="69" dy="18.3">步工作中加以克服和改进。因此，在下一步的</tspan><tspan x="69" dy="18.3">工作中，我要虚心向领导和其他同事学习管理</tspan><tspan x="69" dy="18.3">和工作经验，借鉴好的工作方法，努力学习，</tspan><tspan x="69" dy="18.3">提高自身的素质。要进一步学习相关的理论知</tspan><tspan x="69" dy="18.3">识与实践经验相结合，有效的完成各项任务</tspan><tspan x="69" dy="18.3">，工作要得心应手，有驾驭全局的能力。</tspan><tspan x="69" dy="18.3">发扬敬业精神，增强责任意识。关心、爱护同</tspan><tspan x="69" dy="18.3">事，我们是一直强大的团体，一定可以做的更</tspan><tspan x="69" dy="18.3">好，最好。我一定可以做到业务内勤应该具有</tspan><tspan x="69" dy="18.3">的基本的素质：有强烈的事业心与责任感。</tspan></text></g>
<g id="b6-b62"><rect class="b" x="61" y="4118" width="296" height="67.9" rx="5"/><text class="t" x="69" y="4138.6"><tspan x="69">以上报告，请领导指正批评，欢迎对我的工作</tspan><tspan x="69" dy="18.3">提出宝贵意见，并借此机会，向一贯关心、支</tspan><tspan x="69" dy="18.3">持和帮助我的各位领导表示诚挚的谢意。</tspan></text></g>

<!-- 相关文章 -->
<g id="r1"><rect class="b" x="745" y="4217.5" width="197" height="31" rx="5"/><text class="t" x="753" y="4238">★ 最新员工月度个人总结5篇</text></g>
<g id="r2"><rect class="b" x="717" y="4280.5" width="225" height="31" rx="5"/><text class="t" x="725" y="4301">★ 普通员工月度工作总结最新5篇</text></g>
<g id="r3"><rect class="b" x="717" y="4342.5" width="225" height="31" rx="5"/><text class="t" x="725" y="4363">★ 最新销售经理月度工作总结5篇</text></g>
<g id="r4"><rect class="b" x="824" y="4405.5" width="118" height="31" rx="5"/><text class="t" x="832" y="4426">★ 月度工作总结</text></g>
<g id="r5"><rect class="b" x="745" y="4467.5" width="197" height="31" rx="5"/><text class="t" x="753" y="4488">★ 公司个人月度优秀总结5篇</text></g>
<g id="r6"><rect class="b" x="773" y="4530.5" width="169" height="31" rx="5"/><text class="t" x="781" y="4551">★ 公司个人月度总结5篇</text></g>
<g id="r7"><rect class="b" x="745" y="4593.5" width="197" height="31" rx="5"/><text class="t" x="753" y="4614">★ 新入职员工月工作总结5篇</text></g>
<g id="r8"><rect class="b" x="698" y="4655.5" width="244" height="31" rx="5"/><text class="t" x="706" y="4676">★ 安全员月度个人工作总结大全10篇</text></g>
<g id="r9"><rect class="b" x="731" y="4718.5" width="211" height="31" rx="5"/><text class="t" x="739" y="4739">★ 六月份员工个人工作总结5篇</text></g>
<g id="r10"><rect class="b" x="717" y="4780.5" width="225" height="31" rx="5"/><text class="t" x="725" y="4801">★ 月度安全工作总结范文最新5篇</text></g>
</g>
</svg>
